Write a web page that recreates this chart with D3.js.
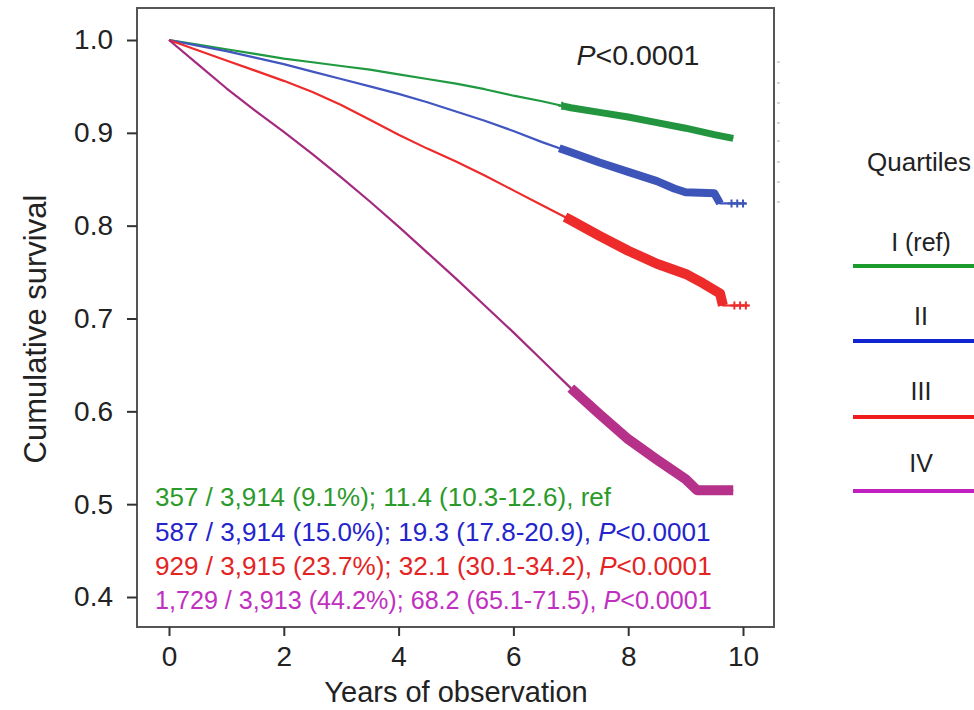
<!DOCTYPE html>
<html><head><meta charset="utf-8">
<script src="https://cdn.jsdelivr.net/npm/d3@7"></script>
<style>
html,body{margin:0;padding:0;background:#fff;}
svg{display:block;font-family:"Liberation Sans",Arial,sans-serif;}
</style></head>
<body><svg id="c" width="974" height="710"></svg>
<script>
// ---- data ----
const seriesNames = ["I (ref)", "II", "III", "IV"];
const seriesColors = ["#1f9a40", "#4256c0", "#ee2a2a", "#a32a7e"];
const bandColors = ["#22953e", "#3d55b8", "#ee2b2b", "#b6318a"];
const legendColors = ["#1c9c2c", "#1024d0", "#ee1c1c", "#c020c0"];
const textColors = ["#2a9a2a", "#2424cc", "#e42424", "#c030c0"];

const timesI   = [0,0.5,1,1.5,2,2.5,3,3.5,4,4.5,5,5.5,6,6.5,7,7.5,8,8.5,9,9.5,9.83];
const survI    = [1,0.995,0.990,0.985,0.980,0.976,0.972,0.968,0.963,0.958,0.953,0.947,0.940,0.934,0.927,0.922,0.917,0.911,0.905,0.898,0.894];
const timesII  = [0,0.5,1,1.5,2,2.5,3,3.5,4,4.5,5,5.5,6,6.5,7,7.5,8,8.5,8.8,9,9.5,9.6,10.05];
const survII   = [1,0.994,0.988,0.981,0.974,0.966,0.958,0.950,0.942,0.933,0.923,0.913,0.902,0.890,0.879,0.868,0.858,0.848,0.840,0.836,0.835,0.824,0.824];
const timesIII = [0,0.5,1,1.5,2,2.5,3,3.5,4,4.5,5,5.5,6,6.5,7,7.5,8,8.5,9,9.3,9.6,9.65,10.1];
const survIII  = [1,0.989,0.978,0.967,0.956,0.944,0.930,0.914,0.898,0.883,0.869,0.854,0.838,0.822,0.806,0.789,0.773,0.759,0.748,0.738,0.727,0.714,0.714];
const timesIV  = [0,0.5,1,1.5,2,2.5,3,3.5,4,4.5,5,5.5,6,6.5,7,7.5,8,8.5,9,9.2,9.83];
const survIV   = [1,0.974,0.948,0.924,0.901,0.877,0.852,0.826,0.799,0.771,0.743,0.714,0.685,0.655,0.625,0.597,0.570,0.548,0.527,0.515,0.515];

// start of dense censoring (thick band) per series
const bandStart = [6.85, 6.8, 6.9, 7.0];
// isolated censor marks (+)
const censorI   = [6.85];
const censorII  = [9.8, 9.9, 10.0];
const censorIII = [9.85, 9.95, 10.05];
const censorIV  = [];

const xTicks = [0,2,4,6,8,10];
const yTicks = [0.4,0.5,0.6,0.7,0.8,0.9,1.0];
const statLines = [
  ["357 / 3,914 (9.1%); 11.4 (10.3-12.6), ref", ""],
  ["587 / 3,914 (15.0%); 19.3 (17.8-20.9), ", "P<0.0001"],
  ["929 / 3,915 (23.7%); 32.1 (30.1-34.2), ", "P<0.0001"],
  ["1,729 / 3,913 (44.2%); 68.2 (65.1-71.5), ", "P<0.0001"]
];
const overallP = "P<0.0001";
const xTitle = "Years of observation";
const yTitle = "Cumulative survival";
const legendTitle = "Quartiles";

const series = [
  {t: timesI, s: survI, c: censorI},
  {t: timesII, s: survII, c: censorII},
  {t: timesIII, s: survIII, c: censorIII},
  {t: timesIV, s: survIV, c: censorIV}
];

// ---- layout ----
const svg = d3.select("#c");
const box = {l:137, t:8, r:774, b:627};
const x = d3.scaleLinear().domain([0,10]).range([169,743]);
const y = d3.scaleLinear().domain([0.4,1.0]).range([597,40]);

// plot box
svg.append("rect").attr("x",box.l).attr("y",box.t)
  .attr("width",box.r-box.l).attr("height",box.b-box.t)
  .attr("fill","#fff").attr("stroke","#555").attr("stroke-width",2);

// faint marks right of the box
const faint = [62,83,103,123,141,162,182,202];
svg.selectAll(".fm").data(faint).enter().append("line")
  .attr("x1",777).attr("x2",780).attr("y1",d=>d).attr("y2",d=>d)
  .attr("stroke","#c8c8c8").attr("stroke-width",1.5);

// axes
const xAxis = d3.axisBottom(x).tickValues(xTicks).tickSize(9).tickPadding(10).tickFormat(d3.format("d"));
const gx = svg.append("g").attr("transform",`translate(0,${box.b})`).call(xAxis);
gx.select(".domain").remove();
gx.selectAll("line").attr("stroke","#333").attr("stroke-width",2);
gx.selectAll("text").attr("font-size",28).attr("fill","#222").attr("font-family","Liberation Sans, Arial, sans-serif");

const yAxis = d3.axisLeft(y).tickValues(yTicks).tickSize(10).tickPadding(14).tickFormat(d3.format(".1f"));
const gy = svg.append("g").attr("transform",`translate(${box.l},0)`).call(yAxis);
gy.select(".domain").remove();
gy.selectAll("line").attr("stroke","#333").attr("stroke-width",2);
gy.selectAll("text").attr("font-size",28).attr("fill","#222").attr("font-family","Liberation Sans, Arial, sans-serif");

// titles
svg.append("text").attr("x",456).attr("y",702).attr("text-anchor","middle")
  .attr("font-size",29).attr("fill","#222").text(xTitle);
svg.append("text").attr("transform","translate(46,329) rotate(-90)").attr("text-anchor","middle")
  .attr("font-size",31).attr("fill","#222").text(yTitle);

// curves
const line = d3.line().x(d=>x(d[0])).y(d=>y(d[1]));
svg.append("defs").append("clipPath").attr("id","pc").append("rect")
  .attr("x",box.l).attr("y",box.t).attr("width",box.r-box.l).attr("height",box.b-box.t);
const plot = svg.append("g").attr("clip-path","url(#pc)");

series.forEach((sr,i)=>{
  const pts = sr.t.map((t,k)=>[t, sr.s[k]]);
  plot.append("path").datum(pts).attr("d",line).attr("fill","none")
    .attr("stroke",seriesColors[i]).attr("stroke-width",2.2).attr("stroke-linejoin","round");
  // dense censoring band
  const bs = bandStart[i];
  const idx = sr.t.findIndex(t=>t>=bs);
  const band = [[bs, d3.scaleLinear().domain([sr.t[idx-1], sr.t[idx]]).range([sr.s[idx-1], sr.s[idx]])(bs)]]
    .concat(pts.slice(idx));
  const bandEndIdx = (i===1||i===2) ? band.length-1 : band.length;
  plot.append("path").datum(band.slice(0,bandEndIdx)).attr("d",line).attr("fill","none")
    .attr("stroke",bandColors[i]).attr("stroke-width", i===0?7:(i===1?8:10))
    .attr("stroke-linejoin","round");
  // isolated censor marks
  const f = d3.scaleLinear().domain(sr.t).range(sr.s);
  sr.c.forEach(ct=>{
    const cx = x(ct), cy = y(f(ct));
    plot.append("path").attr("d",`M${cx-4},${cy}H${cx+4}M${cx},${cy-4}V${cy+4}`)
      .attr("stroke",bandColors[i]).attr("stroke-width",2);
  });
});

// overall P
const pt = svg.append("text").attr("x",638).attr("y",65).attr("text-anchor","middle")
  .attr("font-size",28.5).attr("fill","#222");
pt.append("tspan").attr("font-style","italic").text(overallP.slice(0,1));
pt.append("tspan").text(overallP.slice(1));

// stats text (fitted to the reference's line widths)
const statY = [506, 541, 575, 609];
const statW = [457, 556, 557, 557];
statLines.forEach((ln,i)=>{
  const g = svg.append("g");
  const t = g.append("text").attr("x",0).attr("y",0).attr("font-size",26)
    .attr("fill",textColors[i]);
  t.append("tspan").text(ln[0]);
  if (ln[1]) {
    t.append("tspan").attr("font-style","italic").text(ln[1].slice(0,1));
    t.append("tspan").text(ln[1].slice(1));
  }
  const w = t.node().getBBox().width;
  g.attr("transform",`translate(155,${statY[i]}) scale(${statW[i]/w},1)`);
});

// legend
svg.append("text").attr("x",867).attr("y",171).attr("font-size",26).attr("fill","#222").text(legendTitle);
const legLabelY = [251, 325, 400, 472];
const legLineY = [266, 341, 417, 491];
seriesNames.forEach((n,i)=>{
  svg.append("text").attr("x",921).attr("y",legLabelY[i]).attr("text-anchor","middle")
    .attr("font-size",25).attr("fill","#222").text(n);
  svg.append("line").attr("x1",853).attr("x2",980).attr("y1",legLineY[i]).attr("y2",legLineY[i])
    .attr("stroke",legendColors[i]).attr("stroke-width",4);
});
</script>
</body></html>
